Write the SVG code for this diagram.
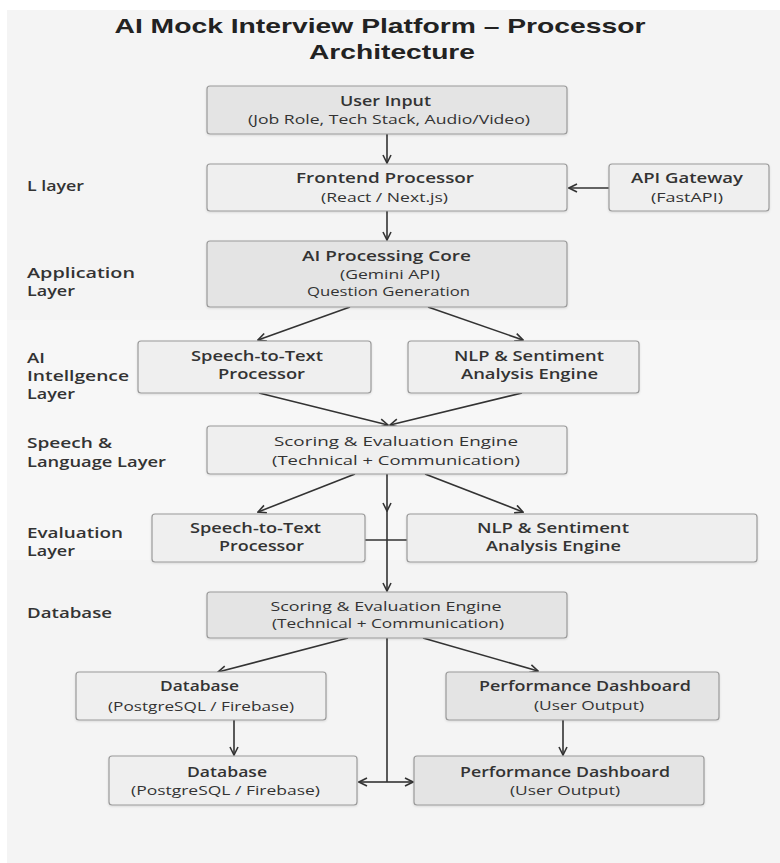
<svg xmlns="http://www.w3.org/2000/svg" width="780" height="863" viewBox="0 0 780 863">
<defs>
<marker id="arr" viewBox="0 0 10 10" refX="9" refY="5" markerWidth="10" markerHeight="10" markerUnits="userSpaceOnUse" orient="auto">
<path d="M1,1 L9,5 L1,9" fill="none" stroke="#333" stroke-width="1.6"/>
</marker>
<filter id="sh" x="-5%" y="-10%" width="110%" height="130%">
<feDropShadow dx="0" dy="1" stdDeviation="1" flood-color="#000" flood-opacity="0.12"/>
</filter>
</defs>
<style>
text{font-family:"Open Sans","Liberation Sans",sans-serif;fill:#333;}
.title{font-family:"Liberation Sans",Arial,sans-serif;font-size:20.5px;font-weight:700;fill:#222;text-anchor:middle;}
.lbl{font-size:14px;font-weight:600;}
.b{font-size:13.5px;font-weight:600;text-anchor:middle;}
.r{font-size:13px;text-anchor:middle;}
.dark{fill:#e4e4e4;stroke:#9a9a9a;stroke-width:1.2;filter:url(#sh);}
.light{fill:#efefef;stroke:#9a9a9a;stroke-width:1.2;filter:url(#sh);}
.c{fill:none;stroke:#333;stroke-width:1.6;}
.a{marker-end:url(#arr);}
</style>
<rect x="0" y="0" width="780" height="863" fill="#ffffff"/>
<rect x="7" y="10" width="773" height="853" fill="#f4f4f4"/>
<rect x="7" y="320" width="773" height="240" fill="#f7f7f7"/>

<text class="title" x="380" y="33" textLength="531" lengthAdjust="spacingAndGlyphs">AI Mock Interview Platform – Processor</text>
<text class="title" x="392" y="59" textLength="166" lengthAdjust="spacingAndGlyphs">Architecture</text>

<g id="layer-labels">
<text class="lbl" x="27" y="191" textLength="57" lengthAdjust="spacingAndGlyphs">L layer</text>
<text class="lbl" x="27" y="278" textLength="108" lengthAdjust="spacingAndGlyphs">Application</text>
<text class="lbl" x="27" y="296" textLength="48" lengthAdjust="spacingAndGlyphs">Layer</text>
<text class="lbl" x="27" y="363" textLength="18" lengthAdjust="spacingAndGlyphs">AI</text>
<text class="lbl" x="27" y="381" textLength="102" lengthAdjust="spacingAndGlyphs">Intellgence</text>
<text class="lbl" x="27" y="399" textLength="48" lengthAdjust="spacingAndGlyphs">Layer</text>
<text class="lbl" x="27" y="448" textLength="85" lengthAdjust="spacingAndGlyphs">Speech &amp;</text>
<text class="lbl" x="27" y="467" textLength="139" lengthAdjust="spacingAndGlyphs">Language Layer</text>
<text class="lbl" x="27" y="538" textLength="96" lengthAdjust="spacingAndGlyphs">Evaluation</text>
<text class="lbl" x="27" y="556" textLength="48" lengthAdjust="spacingAndGlyphs">Layer</text>
<text class="lbl" x="27" y="618" textLength="85" lengthAdjust="spacingAndGlyphs">Database</text>
</g>

<g id="connectors">
<path class="c a" d="M387,134 V163"/>
<path class="c a" d="M609,188 H569"/>
<path class="c a" d="M387,211 V240"/>
<path class="c a" d="M350,307 L258,340"/>
<path class="c a" d="M428,307 L523,340"/>
<path class="c a" d="M259,393 L388,425"/>
<path class="c a" d="M522,393 L390,425"/>
<path class="c a" d="M355,474 L258,512"/>
<path class="c a" d="M425,474 L523,512"/>
<path class="c a" d="M387,474 V511"/>
<path class="c a" d="M387,511 V591"/>
<path class="c" d="M365,540 H407"/>
<path class="c a" d="M348,638 L218,672"/>
<path class="c a" d="M423,638 L538,671"/>
<path class="c" d="M387,638 V782"/>
<path class="c a" d="M387,782 H359"/>
<path class="c a" d="M387,782 H413"/>
<path class="c a" d="M234,720 V755"/>
<path class="c a" d="M563,720 V755"/>
</g>

<g id="user-input">
<rect class="dark" x="207" y="86" width="360" height="48" rx="3"/>
<text class="b" x="385.5" y="106" textLength="91" lengthAdjust="spacingAndGlyphs">User Input</text>
<text class="r" x="389" y="124" textLength="282" lengthAdjust="spacingAndGlyphs">(Job Role, Tech Stack, Audio/Video)</text>
</g>
<g id="frontend-processor">
<rect class="light" x="207" y="164" width="360" height="47" rx="3"/>
<text class="b" x="385" y="183" textLength="178" lengthAdjust="spacingAndGlyphs">Frontend Processor</text>
<text class="r" x="384.5" y="202" textLength="127" lengthAdjust="spacingAndGlyphs">(React / Next.js)</text>
</g>
<g id="api-gateway">
<rect class="light" x="609" y="164" width="160" height="47" rx="3"/>
<text class="b" x="687" y="183" textLength="112" lengthAdjust="spacingAndGlyphs">API Gateway</text>
<text class="r" x="687" y="202" textLength="72" lengthAdjust="spacingAndGlyphs">(FastAPI)</text>
</g>
<g id="ai-core">
<rect class="dark" x="207" y="241" width="360" height="66" rx="3"/>
<text class="b" x="386.5" y="261" textLength="169" lengthAdjust="spacingAndGlyphs">AI Processing Core</text>
<text class="r" x="390" y="279" textLength="100" lengthAdjust="spacingAndGlyphs">(Gemini API)</text>
<text class="r" x="388.5" y="296" textLength="163" lengthAdjust="spacingAndGlyphs">Question Generation</text>
</g>
<g id="stt-1">
<rect class="light" x="138" y="341" width="233" height="52" rx="3"/>
<text class="b" x="257" y="361" textLength="132" lengthAdjust="spacingAndGlyphs">Speech-to-Text</text>
<text class="b" x="261.5" y="379" textLength="87" lengthAdjust="spacingAndGlyphs">Processor</text>
</g>
<g id="nlp-1">
<rect class="light" x="408" y="341" width="231" height="52" rx="3"/>
<text class="b" x="529" y="361" textLength="150" lengthAdjust="spacingAndGlyphs">NLP &amp; Sentiment</text>
<text class="b" x="529.5" y="379" textLength="137" lengthAdjust="spacingAndGlyphs">Analysis Engine</text>
</g>
<g id="scoring-1">
<rect class="light" x="207" y="426" width="360" height="48" rx="3"/>
<text class="r" x="396" y="446" textLength="244" lengthAdjust="spacingAndGlyphs">Scoring &amp; Evaluation Engine</text>
<text class="r" x="396" y="465" textLength="248" lengthAdjust="spacingAndGlyphs">(Technical + Communication)</text>
</g>
<g id="stt-2">
<rect class="light" x="152" y="514" width="213" height="48" rx="3"/>
<text class="b" x="255.5" y="533" textLength="131" lengthAdjust="spacingAndGlyphs">Speech-to-Text</text>
<text class="b" x="261.5" y="551" textLength="85" lengthAdjust="spacingAndGlyphs">Processor</text>
</g>
<g id="nlp-2">
<rect class="light" x="407" y="514" width="350" height="48" rx="3"/>
<text class="b" x="553" y="533" textLength="152" lengthAdjust="spacingAndGlyphs">NLP &amp; Sentiment</text>
<text class="b" x="553.5" y="551" textLength="135" lengthAdjust="spacingAndGlyphs">Analysis Engine</text>
</g>
<g id="scoring-2">
<rect class="dark" x="207" y="592" width="360" height="46" rx="3"/>
<text class="r" x="386" y="611" textLength="231" lengthAdjust="spacingAndGlyphs">Scoring &amp; Evaluation Engine</text>
<text class="r" x="388" y="628" textLength="232" lengthAdjust="spacingAndGlyphs">(Technical + Communication)</text>
</g>
<g id="database-1">
<rect class="light" x="76" y="672" width="250" height="48" rx="3"/>
<text class="b" x="199.5" y="691" textLength="79" lengthAdjust="spacingAndGlyphs">Database</text>
<text class="r" x="201" y="711" textLength="186" lengthAdjust="spacingAndGlyphs">(PostgreSQL / Firebase)</text>
</g>
<g id="dashboard-1">
<rect class="dark" x="446" y="672" width="273" height="48" rx="3"/>
<text class="b" x="585" y="691" textLength="212" lengthAdjust="spacingAndGlyphs">Performance Dashboard</text>
<text class="r" x="589" y="710" textLength="110" lengthAdjust="spacingAndGlyphs">(User Output)</text>
</g>
<g id="database-2">
<rect class="light" x="109" y="756" width="248" height="49" rx="3"/>
<text class="b" x="227" y="777" textLength="80" lengthAdjust="spacingAndGlyphs">Database</text>
<text class="r" x="225.5" y="795" textLength="189" lengthAdjust="spacingAndGlyphs">(PostgreSQL / Firebase)</text>
</g>
<g id="dashboard-2">
<rect class="dark" x="414" y="756" width="290" height="49" rx="3"/>
<text class="b" x="565" y="777" textLength="210" lengthAdjust="spacingAndGlyphs">Performance Dashboard</text>
<text class="r" x="565" y="795" textLength="110" lengthAdjust="spacingAndGlyphs">(User Output)</text>
</g>
</svg>
